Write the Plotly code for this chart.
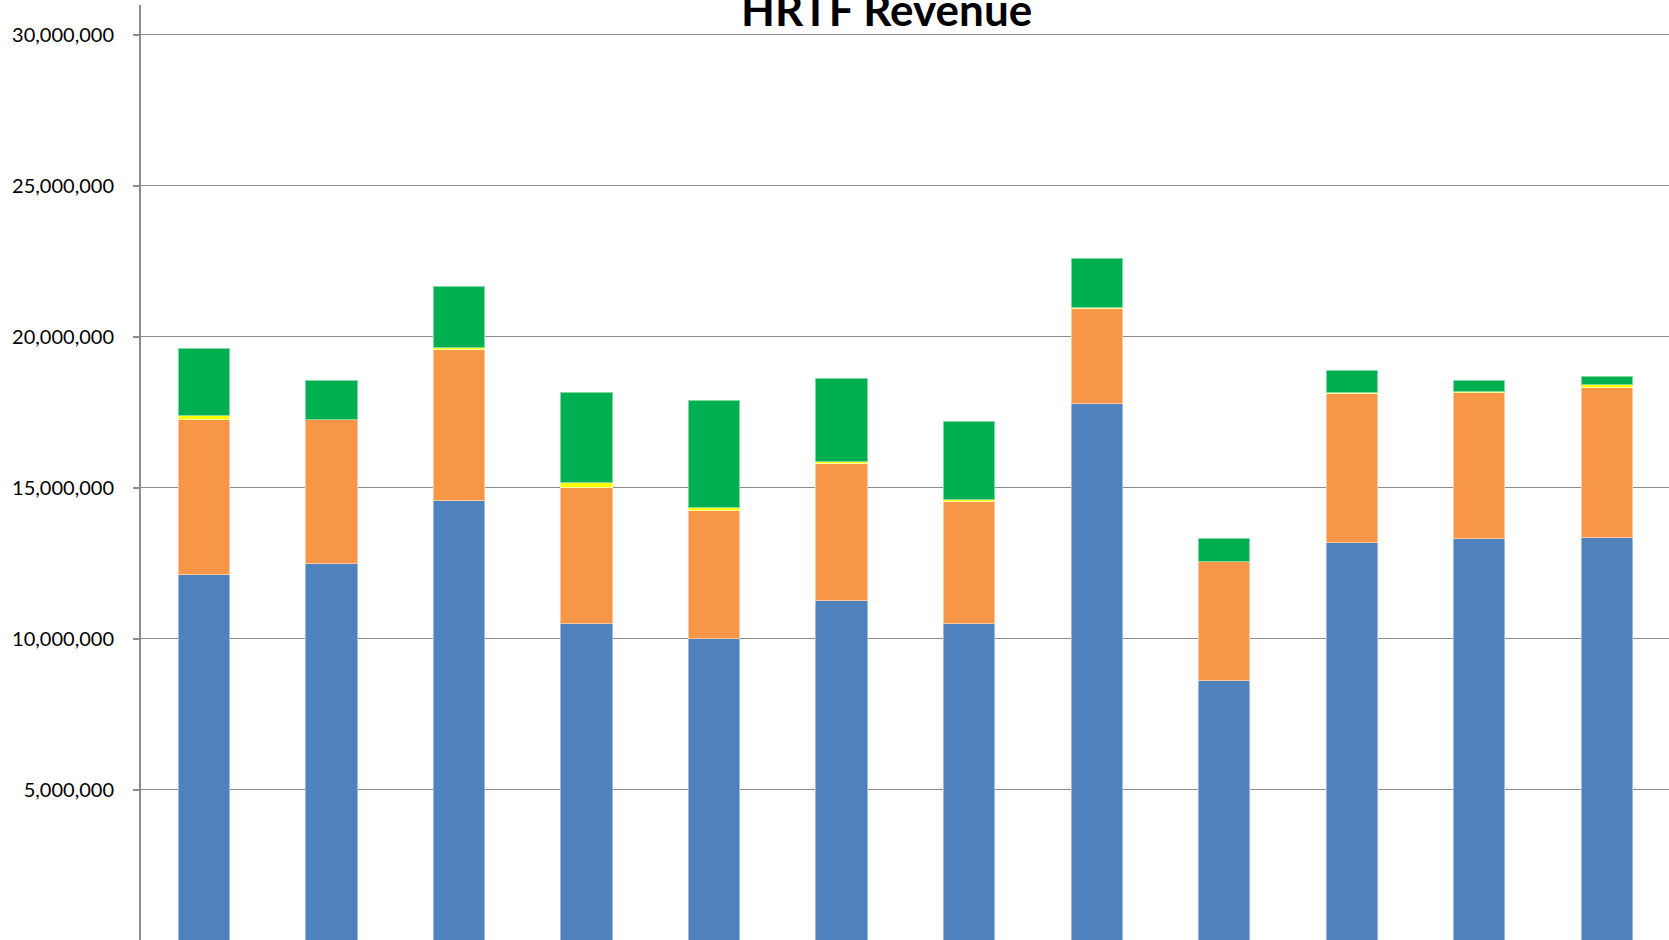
import plotly.graph_objects as go

categories = ["Jan", "Feb", "Mar", "Apr", "May", "Jun", "Jul", "Aug", "Sep", "Oct", "Nov", "Dec"]
series_names = ["Series 1", "Series 2", "Series 3", "Series 4"]
series_1 = [12.13, 12.49, 14.58, 10.51, 10.02, 11.29, 10.51, 17.81, 8.64, 13.19, 13.33, 13.37]
series_2 = [5.13, 4.77, 4.99, 4.52, 4.23, 4.51, 4.05, 3.13, 3.92, 4.95, 4.82, 4.96]
series_3 = [0.13, 0.02, 0.09, 0.15, 0.10, 0.07, 0.07, 0.03, 0.02, 0.02, 0.04, 0.08]
series_4 = [2.24, 1.29, 2.02, 2.99, 3.53, 2.75, 2.58, 1.63, 0.75, 0.73, 0.36, 0.27]
tick_values = [5e6, 10e6, 15e6, 20e6, 25e6, 30e6]
tick_labels = ["5,000,000", "10,000,000", "15,000,000", "20,000,000", "25,000,000", "30,000,000"]
title_text = "HRTF Revenue"

colors = ["#4F81BD", "#F79646", "#FFFF00", "#00B050"]
edge = ["#9DB9E0", "#FAC9A3", "#FFFF99", "#80D8A8"]

fig = go.Figure()
for name, vals, c, e in zip(series_names, [series_1, series_2, series_3, series_4], colors, edge):
    fig.add_trace(go.Bar(
        x=categories, y=[v * 1e6 for v in vals], name=name,
        marker=dict(color=c, line=dict(color=e, width=1)),
        width=0.402,
    ))

fig.update_layout(
    barmode="stack",
    width=1669, height=940,
    margin=dict(l=141, r=0, t=5, b=0),
    plot_bgcolor="white", paper_bgcolor="white",
    showlegend=False,
    font=dict(family="Lato", color="#000000"),
    xaxis=dict(range=[-0.494, 11.488], showticklabels=False, showgrid=False,
               zeroline=False, showline=False, ticks=""),
    yaxis=dict(range=[0.033e6, 30.99e6], tickvals=tick_values, ticktext=tick_labels,
               showgrid=True, gridcolor="#8C8C8C", gridwidth=1, zeroline=False,
               showline=True, linecolor="#8C8C8C", linewidth=2,
               ticks="outside", ticklen=6, tickcolor="#8C8C8C", tickwidth=1.5,
               ticklabelstandoff=15, tickfont=dict(family="Lato", size=20, color="#000000")),
    annotations=[dict(text="<b>" + title_text + "</b>", xref="paper", yref="paper",
                      x=0.488, y=1, xanchor="center", yanchor="bottom", yshift=-32,
                      showarrow=False, font=dict(family="Lato", size=44, color="#000000"))],
)

fig.write_html("out.html", config={"displayModeBar": False},
               post_script="document.body.style.margin='0';document.body.style.overflow='hidden';")
